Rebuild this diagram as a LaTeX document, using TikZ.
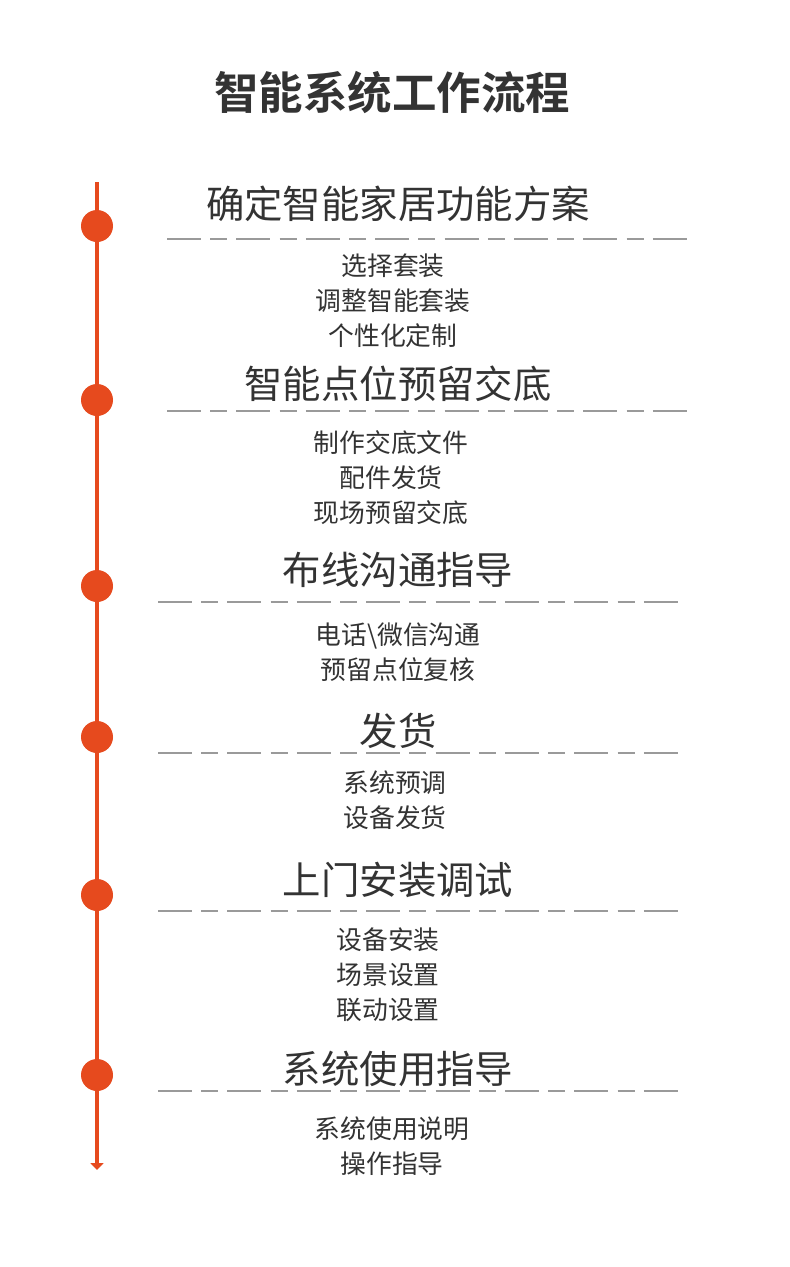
\documentclass[tikz,border=0pt]{standalone}
\usepackage{fontspec}
\setmainfont{Noto Sans CJK SC}
\newfontfamily\cjkbold{Noto Sans CJK SC Bold}
\usepackage{xcolor}
\usetikzlibrary{positioning, arrows.meta}

\definecolor{flowred}{HTML}{E64A1E}
\definecolor{textgray}{HTML}{333333}
\definecolor{rulegray}{HTML}{9A9A9A}

\tikzset{
    headline/.style={text=textgray, font=\fontsize{38.4}{42}\selectfont, inner sep=0pt},
    subitems/.style={text=textgray, font=\fontsize{25.8}{35}\selectfont, align=center, inner sep=0pt},
    stepdot/.style={circle, fill=flowred, minimum size=32pt, inner sep=0pt},
    divider/.style={rulegray, line width=1.1pt, dash pattern=on 34pt off 9.2pt on 17pt off 9.2pt},
    timeline/.style={flowred, line width=4pt, -{Triangle[width=13pt, length=7pt]}}
}

\begin{document}
\begin{tikzpicture}[x=1pt, y=-1pt]
        \useasboundingbox[fill=white] (0,0) rectangle (790,1267);

        % Title
        \node[text=textgray, font=\cjkbold\fontsize{44.5}{48}\selectfont, inner sep=0pt] (title) at (392,92) {智能系统工作流程};

        % Timeline
        \coordinate (top) at (97,182);
        \coordinate (bottom) at (97,1170);
        \draw[timeline] (top) -- (bottom);
        \foreach \i/\y in {1/226, 2/400, 3/586, 4/737, 5/895, 6/1075}
            \node[stepdot] (dot\i) at (97,\y) {};

        % Dashed dividers
        \foreach \xa/\xb/\y in {167/688/239, 167/688/411, 158/678/602, 158/678/753, 158/678/911, 158/678/1091}
            \draw[divider] (\xa,\y) -- (\xb,\y);

        % Step headlines
        \node[headline] (head1) at (398,204) {确定智能家居功能方案};
        \node[headline] (head2) at (398,384) {智能点位预留交底};
        \node[headline] (head3) at (398,570) {布线沟通指导};
        \node[headline] (head4) at (398,731) {发货};
        \node[headline] (head5) at (398,880) {上门安装调试};
        \node[headline] (head6) at (398,1069) {系统使用指导};

        % Step details
        \node[subitems] (items1) at (393,301) {选择套装\\调整智能套装\\个性化定制};
        \node[subitems] (items2) at (391,478) {制作交底文件\\配件发货\\现场预留交底};
        \node[subitems] (items3) at (398,652) {电话\textbackslash 微信沟通\\预留点位复核};
        \node[subitems] (items4) at (395,800) {系统预调\\设备发货};
        \node[subitems] (items5) at (388,975) {设备安装\\场景设置\\联动设置};
        \node[subitems] (items6) at (392,1146) {系统使用说明\\操作指导};
    \end{tikzpicture}
\end{document}
